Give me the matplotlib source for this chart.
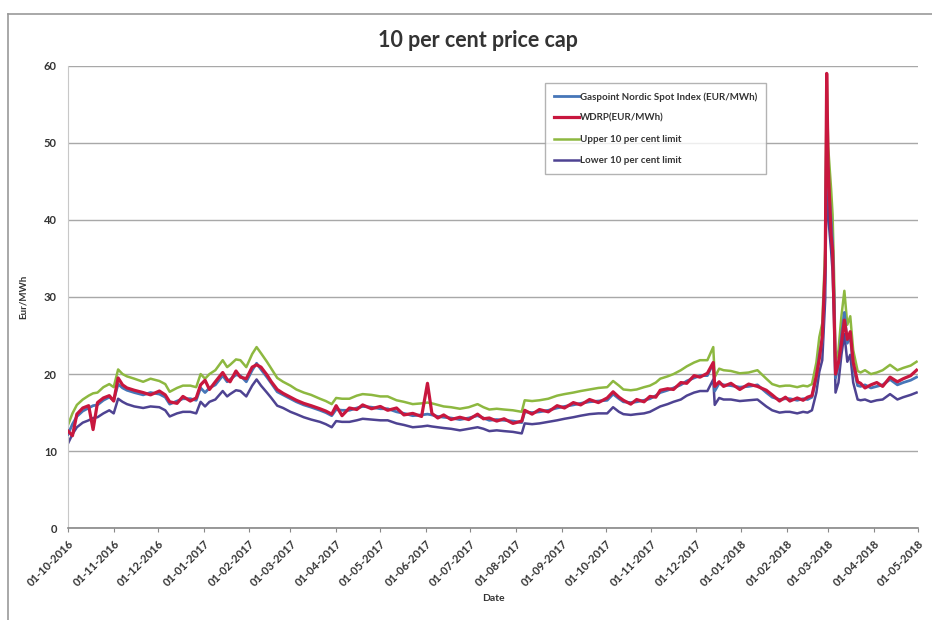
import matplotlib
matplotlib.use("Agg")
import matplotlib.pyplot as plt
import pandas as pd
from matplotlib.lines import Line2D

# Days since 01-10-2016
day_offsets = [
    0, 3, 6, 10, 14, 17, 20, 24, 28, 31,
    34, 37, 40, 45, 51, 56, 62, 66, 69, 74,
    78, 83, 87, 90, 93, 96, 100, 105, 108, 110,
    114, 117, 121, 125, 128, 131, 135, 138, 142, 146,
    151, 155, 160, 165, 171, 175, 179, 182, 186, 191,
    196, 200, 206, 212, 217, 223, 228, 234, 240, 244,
    247, 251, 255, 260, 266, 272, 278, 282, 286, 291,
    296, 302, 308, 310, 315, 320, 326, 332, 337, 343,
    348, 354, 360, 366, 370, 374, 377, 382, 386, 391,
    395, 399, 402, 407, 411, 416, 420, 425, 429, 434,
    438, 439, 442, 445, 450, 456, 462, 468, 474, 478,
    483, 487, 490, 495, 499, 502, 505, 508, 510, 512,
    514, 515, 516, 518, 519, 520, 521, 523, 525, 527,
    529, 531, 533, 536, 538, 541, 545, 549, 553, 558,
    563, 567, 572, 576,
]

gaspoint = [
    12.2, 13.5, 14.5, 15.2, 15.6, 15.9, 16.0, 16.6, 17.0, 16.6,
    18.7, 18.2, 17.9, 17.6, 17.3, 17.6, 17.4, 17.0, 16.1, 16.5,
    16.8, 16.8, 16.6, 18.2, 17.6, 18.2, 18.6, 19.8, 19.0, 19.3,
    19.9, 19.8, 19.0, 20.5, 21.4, 20.6, 19.6, 18.8, 17.7, 17.3,
    16.8, 16.4, 16.0, 15.7, 15.3, 15.0, 14.6, 15.4, 15.3, 15.3,
    15.6, 15.8, 15.7, 15.5, 15.5, 15.1, 14.9, 14.6, 14.7, 14.8,
    14.7, 14.5, 14.4, 14.3, 14.1, 14.3, 14.6, 14.3, 14.0, 14.1,
    14.0, 13.9, 13.7, 15.1, 15.0, 15.1, 15.3, 15.6, 15.8, 16.0,
    16.2, 16.4, 16.5, 16.6, 17.4, 16.8, 16.4, 16.3, 16.4, 16.6,
    16.8, 17.2, 17.6, 17.9, 18.2, 18.6, 19.1, 19.5, 19.8, 19.8,
    21.4, 17.8, 18.8, 18.6, 18.5, 18.3, 18.4, 18.6, 17.6, 17.0,
    16.7, 16.8, 16.8, 16.6, 16.8, 16.7, 17.0, 19.5, 22.5, 24.2,
    33.0, 53.0, 45.0, 40.0, 37.0, 30.0, 19.5, 21.0, 25.0, 28.0,
    24.0, 25.0, 21.0, 18.5, 18.4, 18.6, 18.2, 18.4, 18.6, 19.3,
    18.6, 18.9, 19.2, 19.6,
]

wdrp = [
    12.6, 12.0, 14.8, 15.6, 15.9, 12.8, 16.3, 16.9, 17.2, 16.5,
    19.5, 18.6, 18.2, 17.9, 17.6, 17.3, 17.8, 17.3, 16.4, 16.2,
    17.1, 16.5, 16.9, 18.6, 19.2, 18.0, 19.0, 20.2, 19.3, 19.0,
    20.4, 19.6, 19.4, 20.9, 21.2, 20.9, 19.9, 19.0, 18.0, 17.5,
    17.0, 16.6, 16.2, 15.9, 15.5, 15.2, 14.8, 15.9, 14.6, 15.6,
    15.4, 16.0, 15.5, 15.8, 15.3, 15.6, 14.7, 14.9, 14.5, 18.8,
    14.9, 14.3, 14.7, 14.1, 14.4, 14.1, 14.8, 14.2, 14.3, 13.9,
    14.2, 13.6, 13.9, 15.3, 14.8, 15.4, 15.1, 15.9, 15.6, 16.3,
    16.0, 16.7, 16.3, 16.9, 17.7, 17.0, 16.6, 16.1, 16.7, 16.4,
    17.1, 17.0, 17.9, 18.1, 18.0, 18.9, 18.8, 19.8, 19.6, 20.1,
    21.5, 18.4, 19.0, 18.4, 18.8, 18.0, 18.7, 18.4, 17.9, 17.3,
    16.5, 17.0, 16.5, 16.9, 16.6, 17.0, 17.2, 19.8, 22.0, 24.8,
    34.0, 59.0, 47.0, 38.0, 36.0, 28.0, 20.0, 21.5, 24.0, 27.0,
    24.5, 25.5, 21.5, 19.0, 18.8, 18.2, 18.6, 18.9, 18.4, 19.6,
    19.0, 19.4, 19.8, 20.5,
]

upper_limit = [
    13.4, 14.9, 16.0, 16.7, 17.2, 17.5, 17.6, 18.3, 18.7, 18.3,
    20.6, 20.0, 19.7, 19.4, 19.0, 19.4, 19.1, 18.7, 17.7, 18.2,
    18.5, 18.5, 18.3, 20.0, 19.4, 20.0, 20.5, 21.8, 20.9, 21.2,
    21.9, 21.8, 20.9, 22.6, 23.5, 22.7, 21.6, 20.7, 19.5, 19.0,
    18.5, 18.0, 17.6, 17.3, 16.8, 16.5, 16.1, 16.9, 16.8, 16.8,
    17.2, 17.4, 17.3, 17.1, 17.1, 16.6, 16.4, 16.1, 16.2, 16.3,
    16.2, 16.0, 15.8, 15.7, 15.5, 15.7, 16.1, 15.7, 15.4, 15.5,
    15.4, 15.3, 15.1, 16.6, 16.5, 16.6, 16.8, 17.2, 17.4, 17.6,
    17.8, 18.0, 18.2, 18.3, 19.1, 18.5, 18.0, 17.9, 18.0, 18.3,
    18.5, 18.9, 19.4, 19.7, 20.0, 20.5, 21.0, 21.5, 21.8, 21.8,
    23.5, 19.6, 20.7, 20.5, 20.4, 20.1, 20.2, 20.5, 19.4, 18.7,
    18.4, 18.5, 18.5, 18.3, 18.5, 18.4, 18.7, 21.5, 24.8, 26.6,
    36.3, 58.3, 49.5, 44.0, 40.7, 33.0, 21.5, 23.1, 27.5, 30.8,
    26.4, 27.5, 23.1, 20.4, 20.2, 20.5, 20.0, 20.2, 20.5, 21.2,
    20.5, 20.8, 21.1, 21.6,
]

lower_limit = [
    11.0, 12.2, 13.1, 13.7, 14.0, 14.3, 14.4, 14.9, 15.3, 14.9,
    16.8, 16.4, 16.1, 15.8, 15.6, 15.8, 15.7, 15.3, 14.5, 14.9,
    15.1, 15.1, 14.9, 16.4, 15.8, 16.4, 16.7, 17.8, 17.1, 17.4,
    17.9, 17.8, 17.1, 18.5, 19.3, 18.5, 17.6, 16.9, 15.9, 15.6,
    15.1, 14.8, 14.4, 14.1, 13.8, 13.5, 13.1, 13.9, 13.8, 13.8,
    14.0, 14.2, 14.1, 14.0, 14.0, 13.6, 13.4, 13.1, 13.2, 13.3,
    13.2, 13.1, 13.0, 12.9, 12.7, 12.9, 13.1, 12.9, 12.6, 12.7,
    12.6, 12.5, 12.3, 13.6, 13.5, 13.6, 13.8, 14.0, 14.2, 14.4,
    14.6, 14.8, 14.9, 14.9, 15.7, 15.1, 14.8, 14.7, 14.8, 14.9,
    15.1, 15.5, 15.8, 16.1, 16.4, 16.7, 17.2, 17.6, 17.8, 17.8,
    19.3, 16.0, 16.9, 16.7, 16.7, 16.5, 16.6, 16.7, 15.8, 15.3,
    15.0, 15.1, 15.1, 14.9, 15.1, 15.0, 15.3, 17.6, 20.3, 21.8,
    29.7, 47.7, 40.5, 36.0, 33.3, 27.0, 17.6, 18.9, 22.5, 25.2,
    21.6, 22.5, 18.9, 16.7, 16.6, 16.7, 16.4, 16.6, 16.7, 17.4,
    16.7, 17.0, 17.3, 17.6,
]

series_labels = [
    "Gaspoint Nordic Spot Index (EUR/MWh)",
    "WDRP(EUR/MWh)",
    "Upper 10 per cent limit",
    "Lower 10 per cent limit",
]
y_ticks = [0, 10, 20, 30, 40, 50, 60]
start_date = "2016-10-01"
end_date = "2018-05-01"

dates = pd.Timestamp(start_date) + pd.to_timedelta(day_offsets, unit="D")
tick_dates = pd.date_range(start_date, end_date, freq="MS")

plt.rcParams["font.family"] = ["Lato", "DejaVu Sans"]

fig = plt.figure(figsize=(9.32, 6.2), dpi=100)
ax = fig.add_axes([0.073, 0.148, 0.912, 0.746])

c_blue = "#4676B8"
c_red = "#C8173E"
c_green = "#8DB840"
c_purple = "#4E4392"

ax.plot(dates, gaspoint, color=c_blue, lw=2.0, label=series_labels[0], zorder=3)
ax.plot(dates, wdrp, color=c_red, lw=2.3, label=series_labels[1], zorder=4)
ax.plot(dates, upper_limit, color=c_green, lw=1.8, label=series_labels[2], zorder=2)
ax.plot(dates, lower_limit, color=c_purple, lw=1.8, label=series_labels[3], zorder=2)

ax.set_xlim(pd.Timestamp(start_date), pd.Timestamp(end_date))
ax.set_ylim(0, 60)
ax.set_yticks(y_ticks)
ax.set_yticklabels([str(t) for t in y_ticks], fontsize=8, fontweight="bold", color="#333333")
ax.set_xticks(tick_dates)
ax.set_xticklabels([d.strftime("%d-%m-%Y") for d in tick_dates], rotation=45,
                   ha="right", rotation_mode="anchor", fontsize=8, fontweight="bold",
                   color="#333333")
ax.tick_params(axis="x", length=3, color="#888888", pad=4)
ax.tick_params(axis="y", length=0, pad=8)

ax.grid(axis="y", color="#A8A8A8", lw=1.0)
ax.set_axisbelow(True)
for s in ["top", "right"]:
    ax.spines[s].set_visible(False)
ax.spines["bottom"].set_color("#888888")
ax.spines["bottom"].set_linewidth(1.2)
ax.spines["left"].set_color("#C8C8C8")
ax.spines["left"].set_linewidth(0.8)

ax.set_ylabel("Eur/MWh", fontsize=7, fontweight="bold", color="#333333", labelpad=12)
ax.set_xlabel("Date", fontsize=7.5, fontweight="bold", color="#333333", labelpad=4)
fig.text(0.513, 0.935, "10 per cent price cap", ha="center", va="center",
         fontsize=15.5, fontweight="bold", color="#333333")

leg = ax.legend(loc="upper left", bbox_to_anchor=(0.561, 0.962), fontsize=7,
                frameon=True, fancybox=False, edgecolor="#A0A0A0", handlelength=2.6,
                handletextpad=0.1, labelspacing=1.25, borderpad=0.9, borderaxespad=0)
for t in leg.get_texts():
    t.set_fontweight("bold")
    t.set_color("#333333")
leg.get_frame().set_linewidth(1.0)

# outer chart border (top and left)
fig.add_artist(Line2D([0.009, 1.0], [0.978, 0.978], color="#999999", lw=1.2))
fig.add_artist(Line2D([0.009, 0.009], [0.0, 0.978], color="#999999", lw=1.2))

fig.savefig("out.png", dpi=100)
